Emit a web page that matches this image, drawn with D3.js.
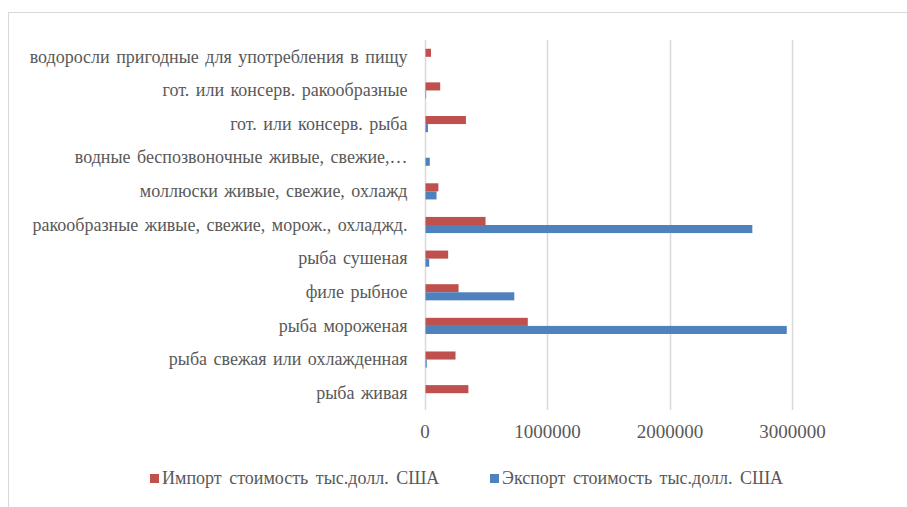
<!DOCTYPE html>
<html>
<head>
<meta charset="utf-8">
<script src="https://cdn.jsdelivr.net/npm/d3@7"></script>
<style>
  body { margin: 0; background: #fff; }
</style>
</head>
<body>
<div id="app"></div>
<script>
const OUTER = { width: 907, height: 507 }
const PLOT = { left: 424.5, right: 792, top: 40, bottom: 410 }
const FONT = '"Liberation Serif", "Times New Roman", serif'

// categories from top to bottom as in the picture
const categories = [
  "водоросли пригодные для употребления в пищу",
  "гот. или консерв. ракообразные",
  "гот. или консерв. рыба",
  "водные беспозвоночные живые, свежие,…",
  "моллюски живые, свежие, охлажд",
  "ракообразные живые, свежие, морож., охладжд.",
  "рыба сушеная",
  "филе рыбное",
  "рыба мороженая",
  "рыба свежая или охлажденная",
  "рыба живая",
]
const importValues = [45000, 120000, 330000, 0, 105000, 490000, 185000, 270000, 835000, 245000, 350000]
const exportValues = [0, 5000, 20000, 35000, 90000, 2668000, 30000, 725000, 2949000, 10000, 0]
const xTicks = [0, 1000000, 2000000, 3000000]
const SERIES = [
  { key: "import", name: "Импорт стоимость тыс.долл. США", color: "#c0504d", values: importValues },
  { key: "export", name: "Экспорт стоимость тыс.долл. США", color: "#4f81bd", values: exportValues },
]

const xScale = d3.scaleLinear()
  .domain([0, 3000000])
  .range([PLOT.left, PLOT.right])

const yScale = d3.scaleBand()
  .domain(categories)
  .range([PLOT.top, PLOT.bottom])
  .paddingInner(0.52)
  .paddingOuter(0.26)

const subScale = d3.scaleBand()
  .domain(SERIES.map(s => s.key))
  .range([0, yScale.bandwidth()])

const svg = d3.select('#app')
  .append('svg')
  .attr('width', OUTER.width)
  .attr('height', OUTER.height)

// chart frame
svg.append('rect')
  .attr('x', 8.5).attr('y', 12.5)
  .attr('width', 1000).attr('height', 1000)
  .attr('fill', '#fff')
  .attr('stroke', '#d9d9d9')

// vertical gridlines
svg.append('g')
  .selectAll('line')
  .data(xTicks)
  .join('line')
  .attr('x1', d => Math.round(xScale(d)) + 0.5)
  .attr('x2', d => Math.round(xScale(d)) + 0.5)
  .attr('y1', PLOT.top)
  .attr('y2', PLOT.bottom)
  .attr('stroke', '#d9d9d9')
  .attr('stroke-width', 1.5)

// bars
SERIES.forEach(s => {
  svg.append('g')
    .selectAll('rect')
    .data(categories.map((c, i) => ({ cat: c, value: s.values[i] })))
    .join('rect')
    .attr('x', xScale(0) + 1)
    .attr('y', d => yScale(d.cat) + subScale(s.key))
    .attr('width', d => Math.max(0, xScale(d.value) - xScale(0)))
    .attr('height', subScale.bandwidth())
    .attr('fill', s.color)
})

// x axis labels
const xAxis = svg.append('g')
  .attr('transform', `translate(0, ${PLOT.bottom})`)
  .call(d3.axisBottom(xScale).tickValues(xTicks).tickSize(0).tickPadding(15).tickFormat(d3.format('d')))
xAxis.select('.domain').remove()
xAxis.selectAll('text')
  .style('font-family', FONT)
  .style('font-size', '19px')
  .attr('fill', '#595959')

// category labels
const yAxis = svg.append('g')
  .attr('transform', `translate(${PLOT.left}, 0)`)
  .call(d3.axisLeft(yScale).tickSize(0).tickPadding(17))
yAxis.select('.domain').remove()
yAxis.selectAll('text')
  .style('font-family', FONT)
  .style('font-size', '18px')
  .style('word-spacing', '2px')
  .attr('fill', '#595959')

// legend
const legendPos = [150, 490]
const legend = svg.append('g')
  .selectAll('g')
  .data(SERIES)
  .join('g')
  .attr('transform', (d, i) => `translate(${legendPos[i]}, 478)`)
legend.append('rect')
  .attr('x', 0).attr('y', -4)
  .attr('width', 9).attr('height', 9)
  .attr('fill', d => d.color)
legend.append('text')
  .attr('x', 12)
  .attr('dy', '0.35em')
  .style('font-family', FONT)
  .style('font-size', '18px')
  .style('word-spacing', '3px')
  .attr('fill', '#595959')
  .text(d => d.name)
</script>
</body>
</html>
